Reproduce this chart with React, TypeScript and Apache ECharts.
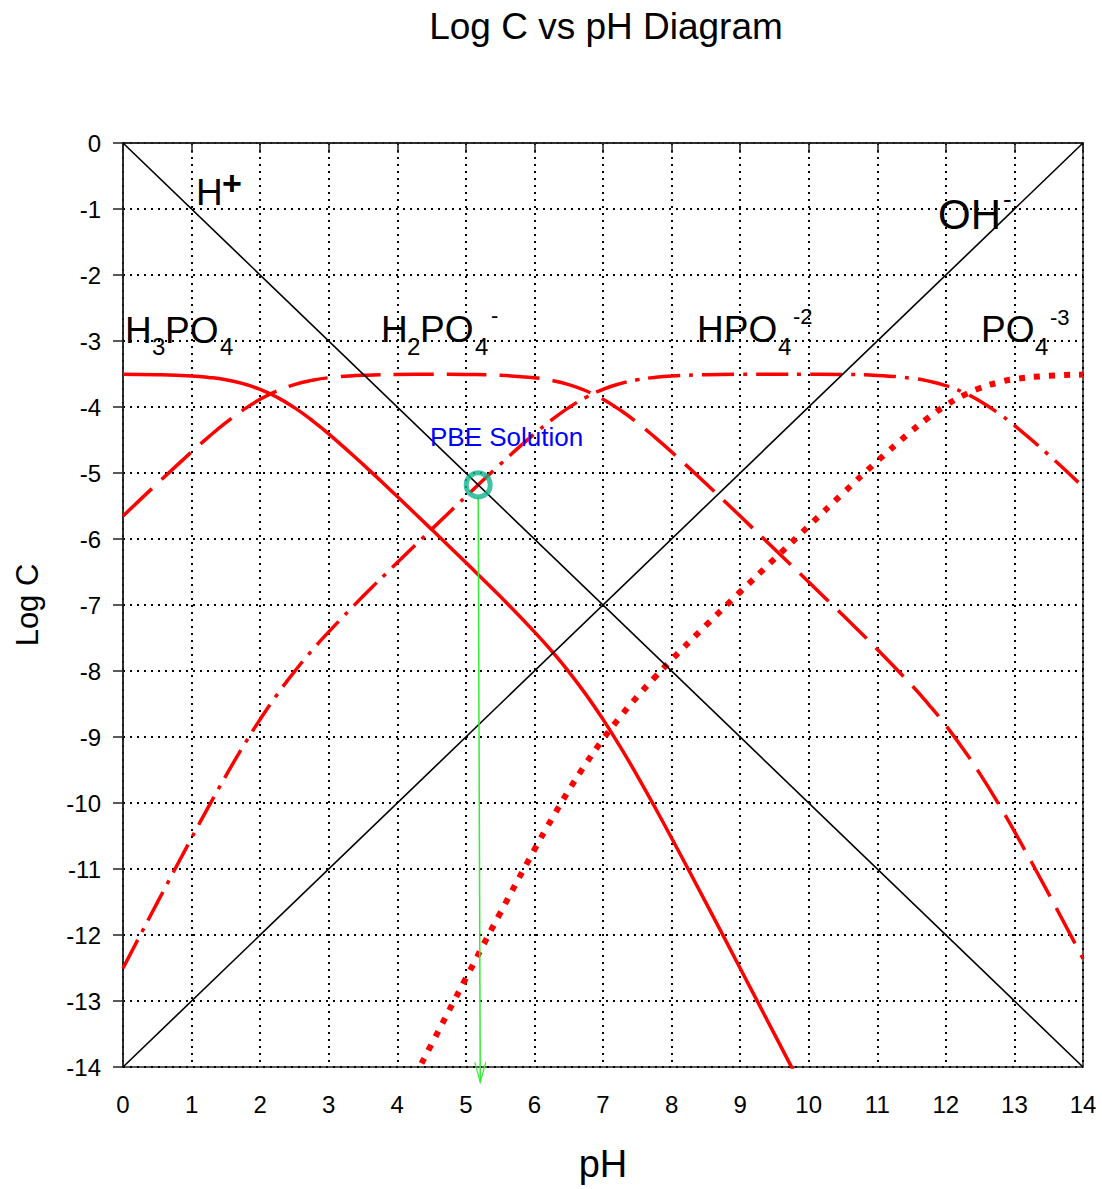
import React, { useEffect, useRef } from "react";
import * as echarts from "echarts";

// pH sample points
const pH = [0, 0.5, 1, 1.25, 1.5, 1.75, 2, 2.25, 2.5, 2.75, 3, 3.5, 4, 4.5, 5, 5.5, 6, 6.25, 6.5, 6.75, 7, 7.25, 7.5, 7.75, 8, 8.5, 9, 9.5, 10, 10.5, 11, 11.5, 11.75, 12, 12.25, 12.5, 12.75, 13, 13.5, 14];

// log concentrations
const logH3PO4 = [-3.503, -3.51, -3.53, -3.552, -3.588, -3.646, -3.733, -3.854, -4.01, -4.197, -4.407, -4.869, -5.357, -5.854, -6.357, -6.869, -7.407, -7.697, -8.01, -8.354, -8.733, -9.146, -9.588, -10.052, -10.53, -11.51, -12.503, -13.502, -14.503, -15.51, null, null, null, null, null, null, null, null, null, null];
const logH2PO4 = [-5.653, -5.16, -4.68, -4.452, -4.238, -4.046, -3.883, -3.754, -3.66, -3.597, -3.557, -3.519, -3.507, -3.504, -3.507, -3.519, -3.557, -3.597, -3.66, -3.754, -3.883, -4.046, -4.238, -4.452, -4.68, -5.16, -5.653, -6.152, -6.653, -7.157, -7.671, -8.214, -8.508, -8.826, -9.177, -9.563, -9.982, -10.429, -11.377, -12.359];
const logHPO4 = [-12.503, -11.51, -10.53, -10.052, -9.588, -9.146, -8.733, -8.354, -8.01, -7.697, -7.407, -6.869, -6.357, -5.854, -5.357, -4.869, -4.407, -4.197, -4.01, -3.854, -3.733, -3.646, -3.588, -3.552, -3.53, -3.51, -3.503, -3.502, -3.503, -3.507, -3.521, -3.564, -3.608, -3.676, -3.777, -3.913, -4.082, -4.279, -4.727, -5.209];
const logPO4 = [null, null, null, null, null, null, null, null, -17.81, -17.25, -16.71, -15.67, -14.657, -13.654, -12.657, -11.669, -10.707, -10.247, -9.81, -9.404, -9.033, -8.696, -8.388, -8.102, -7.83, -7.31, -6.803, -6.302, -5.803, -5.307, -4.821, -4.364, -4.158, -3.976, -3.827, -3.713, -3.632, -3.579, -3.527, -3.509];

const hLine = [[0, 0], [14, -14]];
const ohLine = [[0, -14], [14, 0]];
const pbePoint = [5.18, -5.18];
const arrowStart = [5.18, -5.37];
const arrowEnd = [5.21, -14.23];

const FONT = "'Liberation Sans', Arial, sans-serif";

const zip = (ys: (number | null)[]) => pH.map((x, i) => [x, ys[i]]);

function txt(text: string, x: number, y: number, size: number, opts: any = {}) {
  return {
    type: "text",
    x,
    y,
    z: 100,
    style: {
      text,
      fontSize: size,
      fontFamily: FONT,
      fontWeight: opts.bold ? "bold" : "normal",
      fill: opts.color || "#000",
      textAlign: "left",
      align: "left",
      textVerticalAlign: "middle",
      verticalAlign: "middle",
    },
  };
}

export default function App() {
  const ref = useRef<HTMLDivElement>(null);
  useEffect(() => {
    document.body.style.margin = "0";
    const chart = echarts.init(ref.current!, null, { renderer: "svg" });
    const red = "#ff0000";
    chart.setOption({
      animation: false,
      backgroundColor: "#fff",
      title: {
        text: "Log C vs pH Diagram",
        left: 601,
        top: 3,
        textAlign: "center",
        textStyle: { fontSize: 37, fontWeight: "normal", color: "#000", fontFamily: FONT },
      },
      grid: {
        left: 123,
        top: 143,
        right: 19,
        bottom: 122,
        show: true,
        borderColor: "#222",
        borderWidth: 1.5,
      },
      xAxis: {
        type: "value",
        min: 0,
        max: 14,
        interval: 1,
        name: "pH",
        nameLocation: "middle",
        nameGap: 78,
        nameTextStyle: { fontSize: 38, color: "#000", fontFamily: FONT },
        axisLine: { show: true, lineStyle: { color: "#222", width: 1.5 } },
        axisTick: { show: true, length: 10, inside: false, lineStyle: { color: "#222", width: 1.5 } },
        axisLabel: { fontSize: 24, color: "#000", margin: 25, fontFamily: FONT },
        splitLine: { show: true, lineStyle: { color: "#000", width: 2, type: [2, 5] } },
      },
      yAxis: {
        type: "value",
        min: -14,
        max: 0,
        interval: 1,
        name: "Log C",
        nameLocation: "middle",
        nameGap: 80,
        nameTextStyle: { fontSize: 31, color: "#000", fontFamily: FONT },
        axisLine: { show: true, lineStyle: { color: "#222", width: 1.5 } },
        axisTick: { show: true, length: 10, inside: false, lineStyle: { color: "#222", width: 1.5 } },
        axisLabel: { fontSize: 24, color: "#000", margin: 22, fontFamily: FONT },
        splitLine: { show: true, lineStyle: { color: "#000", width: 2, type: [2, 5] } },
      },
      series: [
        {
          name: "H3PO4",
          type: "line",
          data: zip(logH3PO4),
          smooth: 0.5,
          symbol: "none",
          lineStyle: { color: red, width: 3.5, type: "solid" },
        },
        {
          name: "H2PO4-",
          type: "line",
          data: zip(logH2PO4),
          smooth: 0.5,
          symbol: "none",
          lineStyle: { color: red, width: 3.5, type: [40, 13] },
        },
        {
          name: "HPO4-2",
          type: "line",
          data: zip(logHPO4),
          smooth: 0.5,
          symbol: "none",
          lineStyle: { color: red, width: 3.5, type: [32, 9, 4, 9] },
        },
        {
          name: "PO4-3",
          type: "line",
          data: zip(logPO4),
          smooth: 0.5,
          symbol: "none",
          lineStyle: { color: red, width: 6, type: [6, 9], cap: "butt" },
        },
        {
          name: "H+",
          type: "line",
          data: hLine,
          symbol: "none",
          lineStyle: { color: "#000", width: 1.6 },
        },
        {
          name: "OH-",
          type: "line",
          data: ohLine,
          symbol: "none",
          lineStyle: { color: "#000", width: 1.6 },
        },
        {
          name: "arrow",
          type: "line",
          clip: false,
          showSymbol: true,
          z: 5,
          data: [
            { value: arrowStart, symbol: "none" },
            {
              value: arrowEnd,
              symbol: "path://M0,0L5,20L10,0",
              symbolSize: [11, 20],
              symbolOffset: [0, -10],
            },
          ],
          lineStyle: { color: "#33ee33", width: 1.5 },
          itemStyle: { color: "rgba(0,0,0,0)", borderColor: "#33ee33", borderWidth: 1.5 },
        },
        {
          name: "PBE",
          type: "scatter",
          z: 6,
          data: [pbePoint],
          symbol: "circle",
          symbolSize: 24,
          itemStyle: { color: "rgba(0,0,0,0)", borderColor: "#10b48c", borderWidth: 5 },
        },
      ],
      graphic: [
        // H+
        txt("H", 196, 192, 37),
        txt("+", 222, 183, 34, { bold: true }),
        // OH-
        txt("OH", 938, 214, 42),
        txt("-", 1003, 199, 26),
        // H3PO4
        txt("H", 125, 330, 37),
        txt("3", 152, 346, 24),
        txt("PO", 165, 330, 37),
        txt("4", 220, 346, 24),
        // H2PO4-
        txt("H", 381, 329, 37),
        txt("2", 407, 346, 24),
        txt("PO", 420, 329, 37),
        txt("4", 475, 346, 24),
        txt("-", 491, 315, 22),
        // HPO4-2
        txt("HPO", 697, 329, 37),
        txt("4", 778, 346, 24),
        txt("-2", 793, 316, 22),
        // PO4-3
        txt("PO", 981, 329, 37),
        txt("4", 1035, 346, 24),
        txt("-3", 1050, 317, 22),
        // PBE
        txt("PBE Solution", 430, 437, 26, { color: "#0000ff" }),
      ],
    });
    return () => chart.dispose();
  }, []);
  return <div ref={ref} style={{ width: 1102, height: 1189 }} />;
}
